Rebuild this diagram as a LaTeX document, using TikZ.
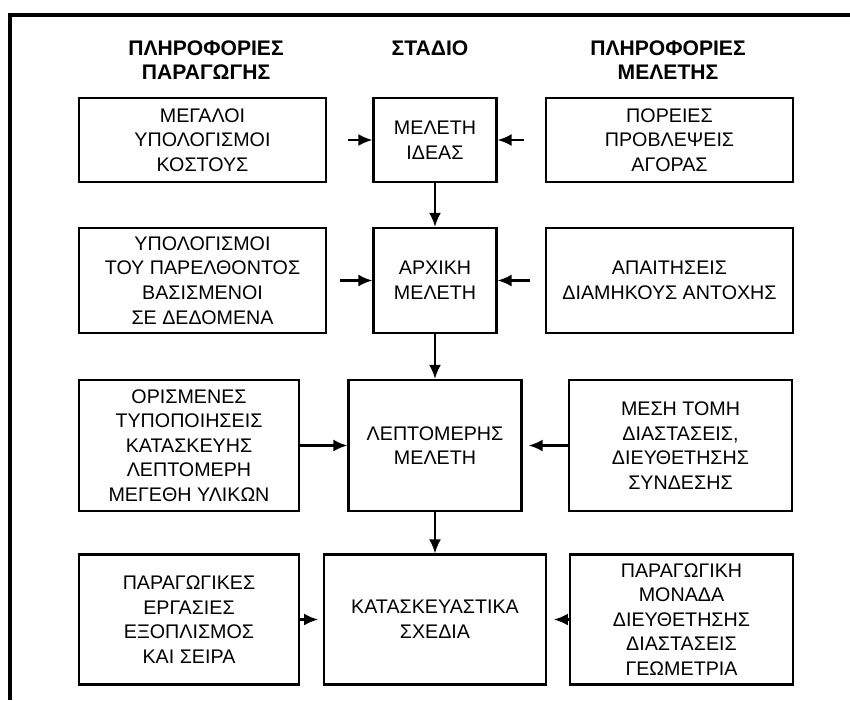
\documentclass[tikz,border=0pt]{standalone}
\usepackage{fontspec}
\setmainfont{Liberation Sans}
\usetikzlibrary{arrows.meta}

\tikzset{
	stage/.style={draw, line width=1.5pt, align=center, inner sep=2pt, font=\fontsize{14}{17.5}\selectfont},
	sz/.style 2 args={minimum width=#1*0.025cm, minimum height=#2*0.025cm},
	head/.style={align=center, font=\fontsize{15}{17.5}\selectfont\bfseries},
	flow/.style={-{Latex[length=10pt, width=8.5pt]}, line width=1.6pt},
}

\begin{document}
\begin{tikzpicture}[x=0.025cm, y=-0.025cm]
		\useasboundingbox (0, 0) rectangle (850, 700);
		\draw[line width=2.2pt] (850, 15) -- (10, 15) -- (10, 700);

		\node[head] (hprod) at (206, 60) {ΠΛΗΡΟΦΟΡΙΕΣ\\ΠΑΡΑΓΩΓΗΣ};
		\node[head] (hstage) at (430, 48) {ΣΤΑΔΙΟ};
		\node[head] (hstudy) at (668, 60) {ΠΛΗΡΟΦΟΡΙΕΣ\\ΜΕΛΕΤΗΣ};

		% row 1
		\node[stage, sz={247}{84}] (cost) at (202.5, 140) {ΜΕΓΑΛΟΙ\\ΥΠΟΛΟΓΙΣΜΟΙ\\ΚΟΣΤΟΥΣ};
		\node[stage, sz={123}{84}] (idea) at (435, 140) {ΜΕΛΕΤΗ\\ΙΔΕΑΣ};
		\node[stage, sz={247}{84}] (market) at (669.5, 140) {ΠΟΡΕΙΕΣ\\ΠΡΟΒΛΕΨΕΙΣ\\ΑΓΟΡΑΣ};

		% row 2
		\node[stage, sz={247}{105}] (past) at (202.5, 280.5) {ΥΠΟΛΟΓΙΣΜΟΙ\\ΤΟΥ ΠΑΡΕΛΘΟΝΤΟΣ\\ΒΑΣΙΣΜΕΝΟΙ\\ΣΕ ΔΕΔΟΜΕΝΑ};
		\node[stage, sz={123}{105}] (initial) at (435, 280.5) {ΑΡΧΙΚΗ\\ΜΕΛΕΤΗ};
		\node[stage, sz={247}{105}] (strength) at (669.5, 280.5) {ΑΠΑΙΤΗΣΕΙΣ\\ΔΙΑΜΗΚΟΥΣ ΑΝΤΟΧΗΣ};

		% row 3
		\node[stage, sz={220}{131}] (standard) at (189, 445.5) {ΟΡΙΣΜΕΝΕΣ\\ΤΥΠΟΠΟΙΗΣΕΙΣ\\ΚΑΤΑΣΚΕΥΗΣ\\ΛΕΠΤΟΜΕΡΗ\\ΜΕΓΕΘΗ ΥΛΙΚΩΝ};
		\node[stage, sz={173}{131}] (detail) at (435, 445.5) {ΛΕΠΤΟΜΕΡΗΣ\\ΜΕΛΕΤΗ};
		\node[stage, sz={223}{131}] (section) at (680.5, 445.5) {ΜΕΣΗ ΤΟΜΗ\\ΔΙΑΣΤΑΣΕΙΣ,\\ΔΙΕΥΘΕΤΗΣΗΣ\\ΣΥΝΔΕΣΗΣ};

		% row 4
		\node[stage, sz={220}{130}] (works) at (189, 619.5) {ΠΑΡΑΓΩΓΙΚΕΣ\\ΕΡΓΑΣΙΕΣ\\ΕΞΟΠΛΙΣΜΟΣ\\ΚΑΙ ΣΕΙΡΑ};
		\node[stage, sz={222}{130}] (drawings) at (435, 619.5) {ΚΑΤΑΣΚΕΥΑΣΤΙΚΑ\\ΣΧΕΔΙΑ};
		\node[stage, sz={223}{130}] (unit) at (681.5, 619.5) {ΠΑΡΑΓΩΓΙΚΗ\\ΜΟΝΑΔΑ\\ΔΙΕΥΘΕΤΗΣΗΣ\\ΔΙΑΣΤΑΣΕΙΣ\\ΓΕΩΜΕΤΡΙΑ};

		\draw[flow, shorten <=0.52cm] (cost) -- (idea);
		\draw[flow, shorten <=0.52cm] (market) -- (idea);
		\draw[flow, shorten <=0.33cm] (past) -- (initial);
		\draw[flow, shorten <=0.37cm] (strength) -- (initial);
		\draw[flow] (standard) -- (detail);
		\draw[flow, shorten >=0.15cm] (section) -- (detail);
		\draw[flow, shorten >=0.12cm] (works) -- (drawings);
		\draw[flow, shorten >=0.17cm] (unit) -- (drawings);

		\draw[flow] (idea) -- (initial);
		\draw[flow] (initial) -- (detail);
		\draw[flow] (detail) -- (drawings);
\end{tikzpicture}
\end{document}
